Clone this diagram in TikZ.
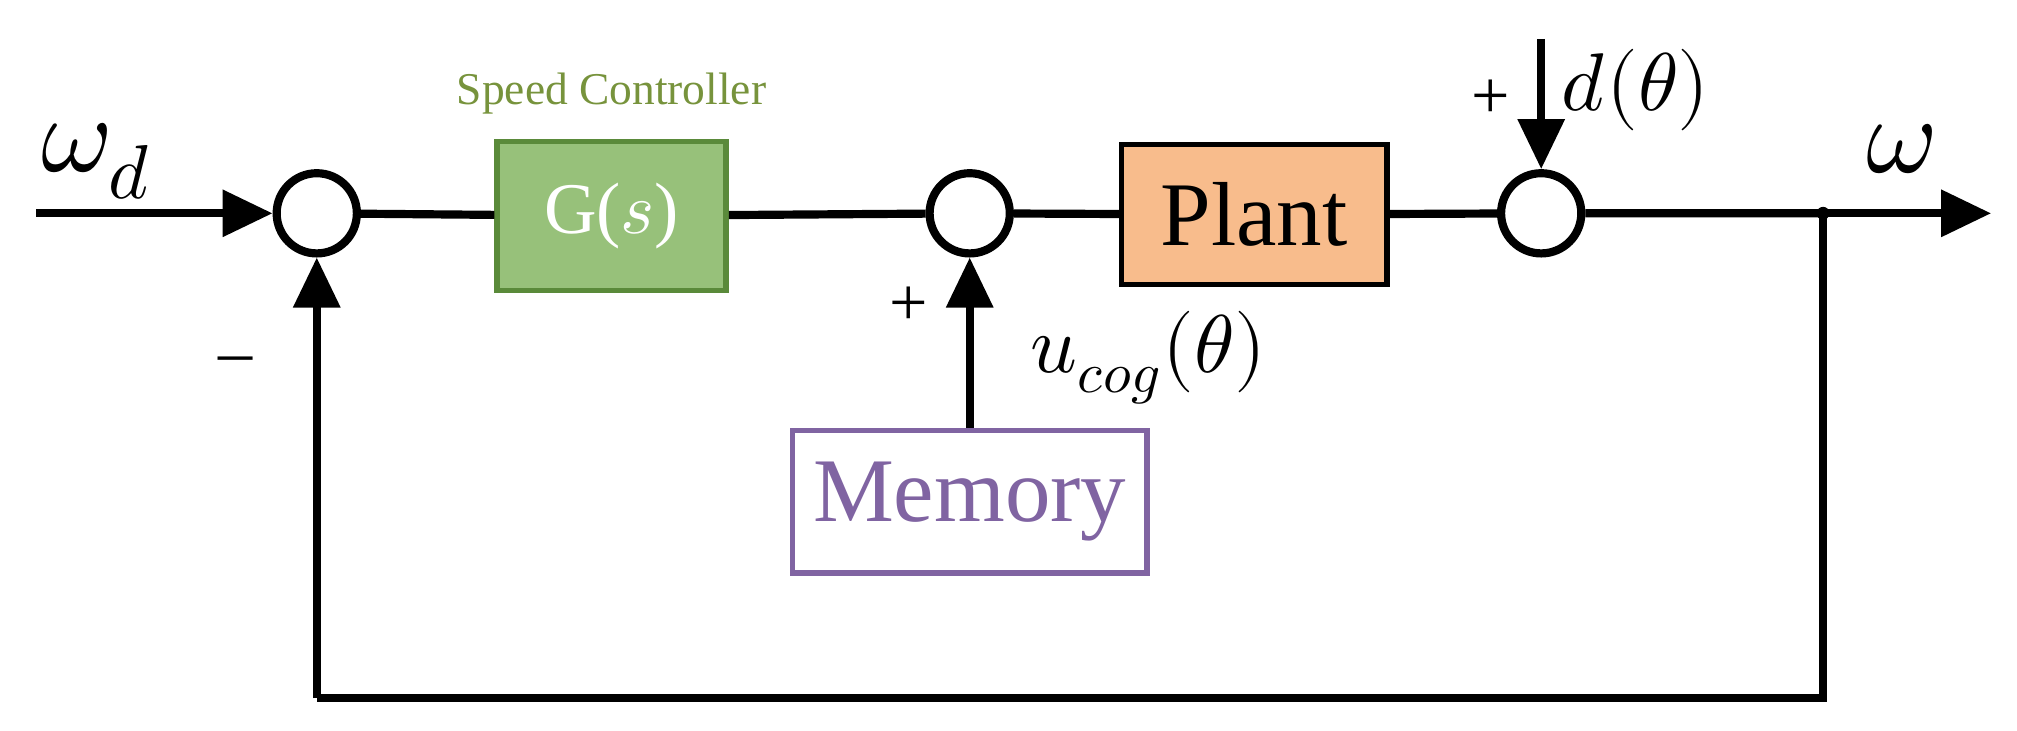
\documentclass[tikz,border=0pt]{standalone}
\usepackage{fontspec}
\setmainfont{Liberation Serif}
\usepackage{unicode-math}
\setmathfont{Latin Modern Math}
\usetikzlibrary{arrows.meta}
\definecolor{gfill}{HTML}{97C17A}
\definecolor{gdraw}{HTML}{5A8A3A}
\definecolor{gtext}{HTML}{77933C}
\definecolor{pfill}{HTML}{F8BC8C}
\definecolor{mem}{HTML}{8064A2}
\begin{document}
\begin{tikzpicture}[x=0.01cm,y=-0.01cm,
  ln/.style={line width=1.8pt},
  arr/.style={ln,-{Triangle[length=11pt,width=10pt]}},
  sum/.style={circle,draw,line width=1.8pt,minimum size=0.62cm,inner sep=0pt},
  blk/.style={draw,line width=1.2pt,minimum width=#1,inner sep=0pt}]
\useasboundingbox (0,0) rectangle (1560,565);
\node[sum] (s1) at (245,165) {};
\node[sum] (s2) at (750,165) {};
\node[sum] (s3) at (1192,165) {};
\node[blk=1.77cm,minimum height=1.15cm,fill=gfill,draw=gdraw,text=white,font=\fontsize{16}{18}\selectfont] (g) at (473,167) {G($s$)};
\node[blk=2.05cm,minimum height=1.08cm,fill=pfill,font=\fontsize{20}{22}\selectfont] (p) at (970,166) {Plant};
\node[blk=2.74cm,minimum height=1.1cm,draw=mem,text=mem,fill=white,font=\fontsize{20}{22}\selectfont] (m) at (750,388) {Memory};
\coordinate (in) at (28,165);
\coordinate (j) at (1410,165);
\coordinate (out) at (1540,165);
\coordinate (dtop) at (1192,30);
\coordinate (bl) at (245,540);
\coordinate (br) at (1410,540);
\draw[arr] (in) -- (s1);
\draw[ln] (s1) -- (g) -- (s2) -- (p) -- (s3) -- (j);
\draw[arr] (j) -- (out);
\fill (j) circle (5);
\draw[arr] (dtop) -- (s3);
\draw[arr] (m) -- (s2);
\draw[ln] (j) -- (br) -- (bl);
\draw[arr] (bl) -- (s1);
\node[text=gtext,font=\fontsize{10}{12}\selectfont] (sc) at (473,72) {Speed Controller};
\node[font=\fontsize{24}{26}\selectfont] (wd) at (75,125) {$\omega_d$};
\node[font=\fontsize{24}{26}\selectfont] (w) at (1470,115) {$\omega$};
\node[font=\fontsize{15}{17}\selectfont] (pd) at (1153,77) {+};
\node[font=\fontsize{18}{20}\selectfont] (d) at (1265,70) {$d(\theta)$};
\node[font=\fontsize{15}{17}\selectfont] (pu) at (703,237) {+};
\node[font=\fontsize{15}{17}\selectfont] (mi) at (182,283) {–};
\node[font=\fontsize{18}{20}\selectfont] (u) at (888,277) {$u_{cog}(\theta)$};
\end{tikzpicture}
\end{document}
